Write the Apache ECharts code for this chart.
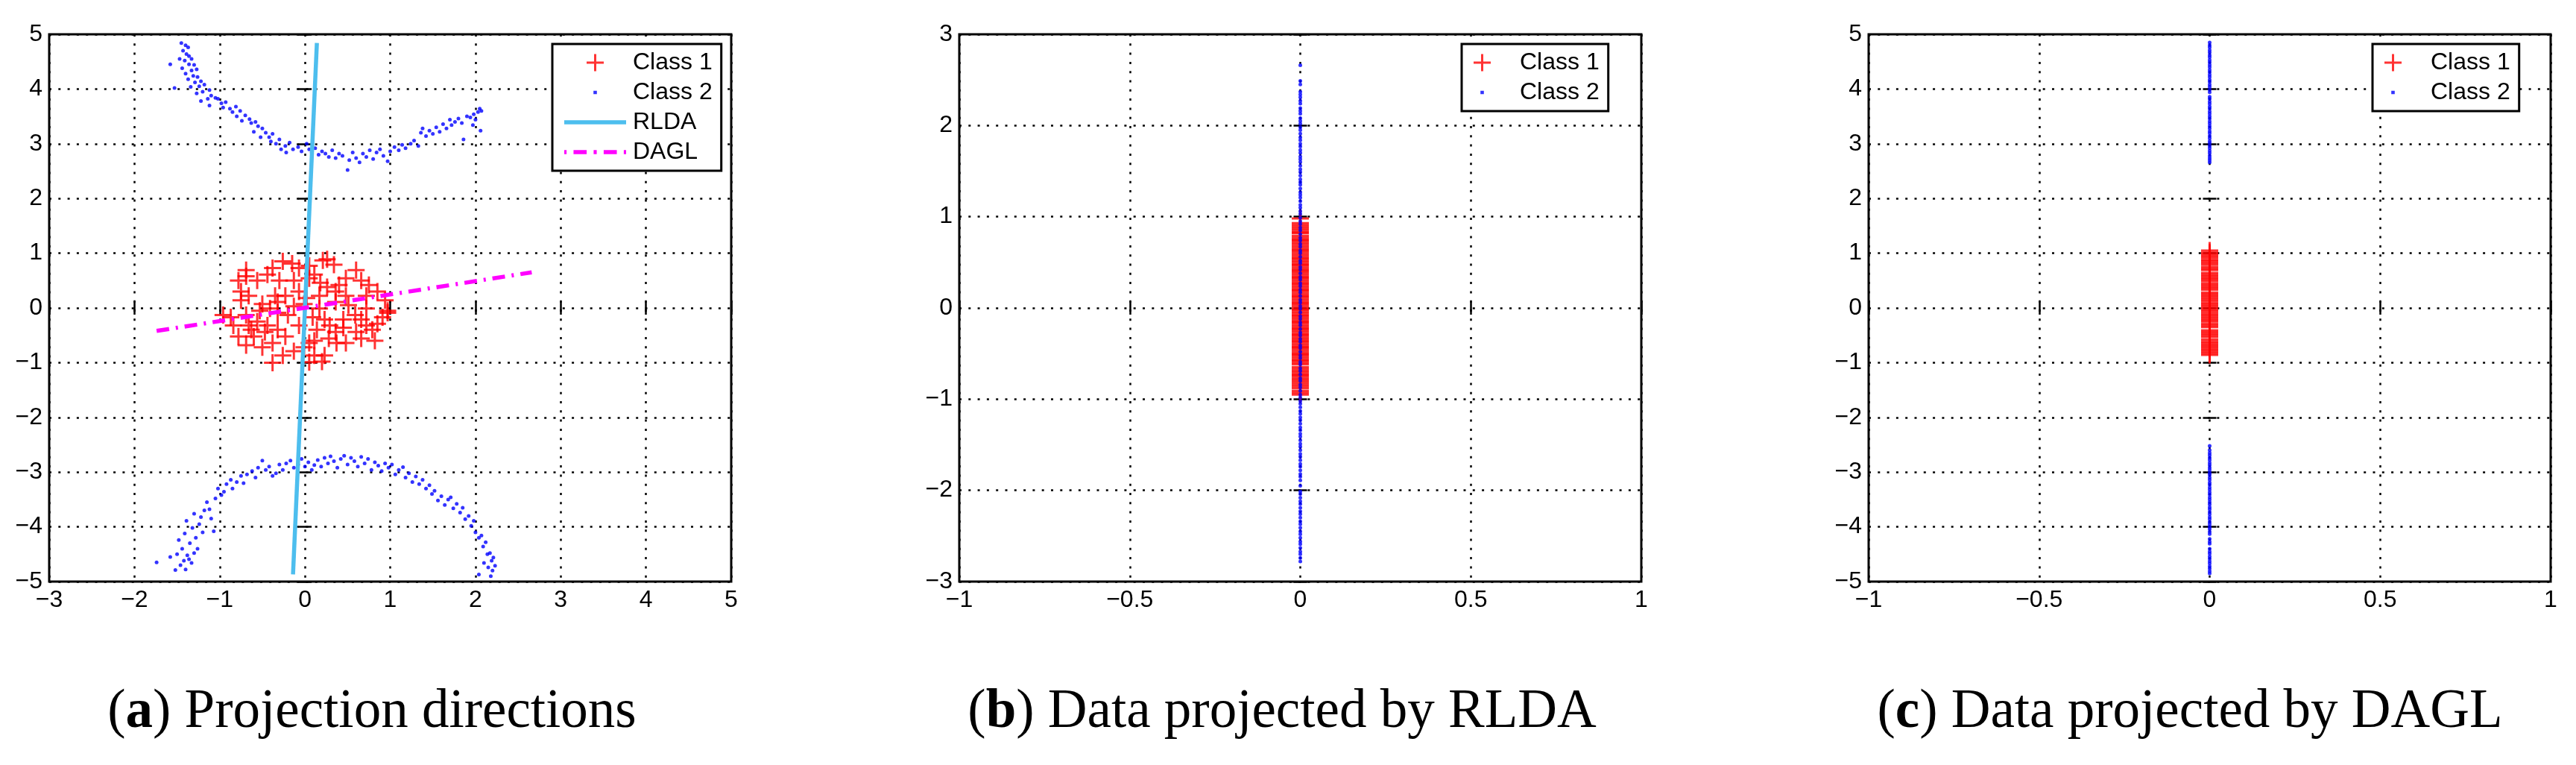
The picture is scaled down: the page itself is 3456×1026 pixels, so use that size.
<!DOCTYPE html>
<html>
<head>
<meta charset="utf-8">
<script src="https://cdn.jsdelivr.net/npm/echarts@6/dist/echarts.min.js"></script>
<style>
  html, body { margin: 0; padding: 0; background: #fff; }
  #main { width: 3456px; height: 1026px; }
</style>
</head>
<body>
<div id="main"></div>
<script>
// ---- data ----
// (a) original 2-D data
var class1A = [
  [-0.38,0.73],[-0.15,0.81],[-0.07,0.73],[0.21,0.87],[0.34,0.79],[0.60,0.69],[-0.69,0.58],[-0.56,0.50],
  [-0.75,0.30],[-0.44,0.61],[-0.30,0.50],[-0.23,0.22],[-0.07,0.30],[0.11,0.61],[0.18,0.46],[0.26,0.38],
  [0.40,0.42],[0.48,0.22],[0.66,0.50],[0.75,0.42],[0.85,0.30],[0.94,0.14],[0.97,-0.05],[0.91,-0.17],
  [0.72,-0.01],[0.59,-0.13],[0.51,0.05],[0.36,0.11],[0.17,-0.01],[0.09,-0.17],[0.23,-0.21],[0.14,-0.40],
  [0.05,-0.64],[0.11,-0.87],[0.20,-0.98],[0.37,-0.64],[0.45,-0.36],[0.60,-0.44],[0.72,-0.32],[0.82,-0.60],
  [0.66,-0.56],[0.28,-0.56],[-0.07,-0.32],[-0.23,-0.52],[-0.32,-0.40],[-0.44,-0.32],[-0.56,-0.25],[-0.69,-0.13],
  [-0.87,-0.17],[-0.96,-0.13],[-0.78,-0.52],[-0.69,-0.68],[-0.60,-0.52],[-0.50,-0.72],[-0.38,-0.64],[-0.26,-0.87],
  [-0.38,-1.00],[-0.13,-0.79],[-0.50,0.07],[-0.41,-0.01],[-0.32,-0.09],[-0.53,-0.05],[-0.75,0.14],[-0.66,0.22],
  [-0.20,-0.13],[-0.13,0.03],[-0.01,0.07],[0.02,0.18],[0.05,0.54],[-0.13,0.50],[0.36,0.30],[0.48,0.54],
  [0.72,0.22],[0.97,-0.09],[0.85,-0.29],[0.45,-0.21],[0.29,-0.32],[0.11,-0.60],[-0.01,-0.72],[0.23,-0.87],
  [0.05,-0.99],[-0.63,-0.40],[-0.84,-0.32],[-0.35,0.22],[-0.78,0.50],[-0.69,0.69],[-0.26,0.85],[0.05,0.77],
  [0.26,0.89],[-0.47,-0.44],[-0.66,-0.32],[0.48,-0.64],[0.36,-0.44],[0.79,-0.40],[0.66,-0.21],[0.17,0.22],
  [-0.32,0.11]
];
var class2UpperA = [
  [-1.45,4.84],[-1.40,4.80],[-1.37,4.76],[-1.43,4.70],[-1.39,4.64],[-1.36,4.60],[-1.47,4.55],[-1.41,4.52],
  [-1.33,4.55],[-1.58,4.45],[-1.36,4.45],[-1.30,4.44],[-1.44,4.38],[-1.33,4.34],[-1.27,4.36],[-1.40,4.28],
  [-1.31,4.24],[-1.26,4.22],[-1.53,4.02],[-1.37,4.18],[-1.29,4.12],[-1.22,4.14],[-1.34,4.04],[-1.24,4.05],
  [-1.18,4.08],[-1.12,3.98],[-1.27,3.92],[-1.20,3.95],[-1.10,3.88],[-1.05,3.84],[-1.22,3.78],[-1.14,3.82],
  [-1.02,3.82],[-1.12,3.70],[-0.98,3.74],[-0.93,3.76],[-0.96,3.66],[-0.88,3.64],[-0.81,3.68],[-0.85,3.58],
  [-0.76,3.60],[-0.80,3.50],[-0.70,3.52],[-0.65,3.45],[-0.74,3.42],[-0.63,3.38],[-0.58,3.40],[-0.55,3.32],
  [-0.60,3.22],[-0.50,3.28],[-0.46,3.20],[-0.52,3.12],[-0.42,3.12],[-0.38,3.18],[-0.40,3.04],[-0.34,3.00],
  [-0.30,3.08],[-0.23,2.96],[-0.28,2.90],[-0.18,3.02],[-0.14,2.90],[-0.22,2.84],[-0.08,2.94],[-0.04,2.86],
  [0.02,3.00],[0.05,2.90],[0.08,2.84],[0.12,2.92],[0.16,2.80],[0.20,2.86],[0.24,2.82],[0.28,2.76],
  [0.32,2.88],[0.36,2.74],[0.40,2.82],[0.44,2.78],[0.50,2.52],[0.52,2.70],[0.56,2.84],[0.60,2.74],
  [0.64,2.66],[0.68,2.82],[0.72,2.76],[0.76,2.88],[0.80,2.72],[0.84,2.84],[0.88,2.90],[0.92,2.78],
  [0.97,2.68],[1.00,2.86],[1.05,2.94],[1.10,2.88],[1.14,2.98],[1.18,2.92],[1.24,3.00],[1.28,3.06],
  [1.33,2.96],[1.36,3.20],[1.38,3.28],[1.42,3.14],[1.46,3.24],[1.50,3.18],[1.54,3.30],[1.58,3.22],
  [1.62,3.36],[1.66,3.28],[1.70,3.44],[1.72,3.34],[1.76,3.40],[1.80,3.46],[1.84,3.38],[1.86,3.08],
  [1.90,3.50],[1.94,3.48],[1.98,3.54],[2.00,3.44],[2.03,3.58],[2.05,3.64],[2.07,3.60],[2.06,3.24],
  [1.97,3.34]
];
var class2LowerA = [
  [-1.74,-4.65],[-1.58,-4.55],[-1.52,-4.79],[-1.50,-4.50],[-1.46,-4.70],[-1.44,-4.40],[-1.48,-4.24],[-1.42,-4.62],
  [-1.40,-4.78],[-1.38,-4.52],[-1.36,-4.59],[-1.41,-4.12],[-1.35,-4.30],[-1.33,-4.66],[-1.30,-4.48],[-1.39,-3.89],
  [-1.32,-4.02],[-1.28,-4.20],[-1.26,-4.40],[-1.24,-3.95],[-1.30,-3.76],[-1.22,-3.82],[-1.20,-4.10],[-1.18,-3.70],
  [-1.15,-3.55],[-1.12,-3.68],[-1.10,-3.85],[-1.07,-4.08],[-1.05,-3.48],[-1.02,-3.30],[-0.98,-3.42],[-0.95,-3.36],
  [-0.92,-3.22],[-0.87,-3.14],[-0.85,-3.30],[-0.80,-3.18],[-0.75,-3.07],[-0.72,-3.20],[-0.68,-3.04],[-0.62,-2.98],
  [-0.58,-3.10],[-0.55,-2.92],[-0.50,-2.79],[-0.46,-2.96],[-0.42,-2.90],[-0.38,-3.07],[-0.34,-3.02],[-0.30,-2.86],
  [-0.26,-2.96],[-0.22,-2.84],[-0.17,-2.79],[-0.13,-2.92],[-0.08,-2.86],[-0.04,-2.76],[0.00,-2.90],[0.04,-2.82],
  [0.08,-2.96],[0.11,-2.87],[0.15,-2.78],[0.19,-2.90],[0.23,-2.74],[0.27,-2.84],[0.30,-2.71],[0.34,-2.80],
  [0.38,-2.92],[0.42,-2.76],[0.46,-2.70],[0.50,-2.86],[0.54,-2.74],[0.58,-2.80],[0.62,-2.90],[0.66,-2.72],
  [0.70,-2.84],[0.74,-2.76],[0.78,-2.96],[0.82,-2.82],[0.86,-2.88],[0.90,-2.98],[0.94,-2.84],[0.98,-2.92],
  [1.02,-2.86],[1.06,-3.04],[1.10,-2.96],[1.15,-2.91],[1.18,-3.10],[1.22,-3.02],[1.26,-3.18],[1.30,-3.08],
  [1.34,-3.22],[1.38,-3.14],[1.42,-3.30],[1.46,-3.24],[1.49,-3.40],[1.52,-3.34],[1.56,-3.52],[1.60,-3.44],
  [1.64,-3.60],[1.68,-3.50],[1.71,-3.46],[1.74,-3.66],[1.78,-3.58],[1.82,-3.74],[1.85,-3.65],[1.88,-3.86],
  [1.92,-3.80],[1.95,-3.98],[1.98,-3.89],[2.00,-4.10],[2.04,-4.20],[2.07,-4.16],[2.09,-4.36],[2.12,-4.28],
  [2.14,-4.50],[2.17,-4.48],[2.19,-4.62],[2.21,-4.56],[2.23,-4.71],[2.20,-4.80],[2.15,-4.74],[2.04,-4.87],
  [2.10,-4.66],[2.18,-4.90]
];
var rldaLine = [[-0.14, -4.87], [0.14, 4.84]];
var daglLine = [[-1.74, -0.42], [2.66, 0.65]];

// (b) data projected by RLDA (all at x = 0)
var rldaClass1 = [
  0.98, 0.93, 0.91, 0.89, 0.87, 0.85, 0.83, 0.82, 0.79, 0.77, 0.75, 0.74, 0.72, 0.70, 0.68, 0.66,
  0.64, 0.63, 0.61, 0.59, 0.57, 0.55, 0.54, 0.52, 0.50, 0.48, 0.47, 0.45, 0.43, 0.41, 0.40, 0.38,
  0.36, 0.34, 0.33, 0.31, 0.29, 0.27, 0.26, 0.24, 0.22, 0.20, 0.19, 0.17, 0.15, 0.13, 0.12, 0.10,
  0.08, 0.06, 0.05, 0.03, 0.01, -0.01, -0.02, -0.04, -0.06, -0.08, -0.09, -0.11, -0.13, -0.15,
  -0.16, -0.18, -0.20, -0.22, -0.23, -0.25, -0.27, -0.29, -0.30, -0.32, -0.34, -0.36, -0.37, -0.39,
  -0.41, -0.43, -0.44, -0.46, -0.48, -0.50, -0.51, -0.53, -0.55, -0.57, -0.58, -0.60, -0.62, -0.65,
  -0.67, -0.69, -0.71, -0.73, -0.74, -0.76, -0.78, -0.80, -0.82, -0.84, -0.86, -0.88, -0.91, -0.93, -0.95
];
var rldaClass2 = [
  2.66, 2.49, 2.45, 2.37, 2.34, 2.31, 2.27, 2.24, 2.19, 2.16, 2.13, 2.08, 2.05, 2.02, 1.98, 1.95,
  1.91, 1.87, 1.84, 1.80, 1.77, 1.73, 1.70, 1.66, 1.63, 1.60, 1.56, 1.52, 1.49, 1.45, 1.41, 1.38,
  1.35, 1.31, 1.27, 1.24, 1.21, 1.17, 1.13, 1.10, 1.06, 1.03, 0.99, 0.95, 0.92, 0.88, 0.85, 0.81,
  0.77, 0.74, 0.70, 0.67, 0.63, 0.60, 0.56, 0.52, 0.49, 0.45, 0.42, 0.38, 0.34, 0.31, 0.27, 0.24,
  0.20, 0.17, 0.13, 0.09, 0.06, 0.02, -0.01, -0.05, -0.09, -0.12, -0.16, -0.19, -0.23, -0.27, -0.30,
  -0.34, -0.37, -0.41, -0.44, -0.48, -0.52, -0.55, -0.59, -0.62, -0.66, -0.69, -0.73, -0.77, -0.80,
  -0.84, -0.87, -0.91, -0.95, -0.98, -1.02, -1.05, -1.09, -1.13, -1.16, -1.20, -1.23, -1.27, -1.31,
  -1.34, -1.38, -1.41, -1.45, -1.49, -1.52, -1.56, -1.60, -1.63, -1.67, -1.71, -1.74, -1.78, -1.82,
  -1.85, -1.89, -1.95, -2.01, -2.04, -2.08, -2.12, -2.15, -2.19, -2.23, -2.26, -2.30, -2.34, -2.37,
  -2.41, -2.45, -2.48, -2.52, -2.56, -2.59, -2.63, -2.67, -2.70, -2.74, -2.78
];

// (c) data projected by DAGL (all at x = 0)
var daglClass1 = [
  1.05, 1.01, 0.98, 0.95, 0.92, 0.88, 0.85, 0.82, 0.79, 0.75, 0.72, 0.69, 0.64, 0.61, 0.58, 0.55,
  0.52, 0.49, 0.45, 0.42, 0.39, 0.36, 0.33, 0.28, 0.25, 0.22, 0.19, 0.16, 0.13, 0.09, 0.06, 0.03,
  0.00, -0.03, -0.06, -0.10, -0.13, -0.16, -0.19, -0.22, -0.25, -0.29, -0.32, -0.35, -0.41, -0.44,
  -0.47, -0.50, -0.53, -0.58, -0.62, -0.65, -0.68, -0.71, -0.74, -0.77, -0.80, -0.83, -0.86
];
var daglClass2 = [
  4.85, 4.80, 4.76, 4.71, 4.67, 4.62, 4.58, 4.53, 4.49, 4.44, 4.40, 4.35, 4.31, 4.26, 4.22, 4.17,
  4.13, 4.08, 4.04, 3.99, 3.94, 3.86, 3.82, 3.77, 3.73, 3.68, 3.64, 3.59, 3.55, 3.50, 3.46, 3.41,
  3.37, 3.32, 3.28, 3.23, 3.19, 3.14, 3.10, 3.05, 3.01, 2.96, 2.92, 2.87, 2.83, 2.78, 2.74, 2.70, 2.66,
  -2.52, -2.60, -2.65, -2.69, -2.74, -2.78, -2.83, -2.87, -2.92, -2.96, -3.01, -3.05, -3.10, -3.14,
  -3.19, -3.23, -3.28, -3.32, -3.37, -3.41, -3.46, -3.50, -3.55, -3.59, -3.64, -3.68, -3.73, -3.77,
  -3.82, -3.86, -3.91, -3.95, -4.00, -4.04, -4.09, -4.13, -4.22, -4.27, -4.31, -4.40, -4.45, -4.49,
  -4.54, -4.58, -4.63, -4.67, -4.72, -4.76, -4.81, -4.85
];

// axis ranges [min, max, interval]
var xRangeA = [-3, 5, 1], yRangeA = [-5, 5, 1];
var xRangeB = [-1, 1, 0.5], yRangeB = [-3, 3, 1];
var xRangeC = [-1, 1, 0.5], yRangeC = [-5, 5, 1];

var captions = [
  { tag: 'a', text: 'Projection directions' },
  { tag: 'b', text: 'Data projected by RLDA' },
  { tag: 'c', text: 'Data projected by DAGL' }
];

// ---- chart ----
var chart = echarts.init(document.getElementById('main'));

var SANS = 'Liberation Sans';
var SERIF = 'Liberation Serif';
var plusPath = 'path://M87,0H113V87H200V113H113V200H87V113H0V87H87Z';
var dotIcon = 'path://M0,0L0.01,0L0,0.01Z M100,100L99.99,100L100,99.99Z M40,40H60V60H40Z';
var rldaIcon = 'path://M0,0H83V5.5H0Z';
var daglIcon = 'path://M0,0H3V5.5H0Z M12,0H29V5.5H12Z M38,0H42V5.5H38Z M51,0H68V5.5H51Z M77,0H80V5.5H77Z';

var gridPos = [66, 1287, 2507];
var captionX = [499, 1720, 2938];

function fmt(v) {
  return String(v).replace('-', '\u2212');
}

function makeAxes(dim, gi, r) {
  var pos = dim === 'x' ? ['bottom', 'top'] : ['left', 'right'];
  return pos.map(function (p, k) {
    return {
      type: 'value',
      gridIndex: gi,
      position: p,
      min: r[0], max: r[1], interval: r[2],
      axisLine: { show: false },
      axisTick: { show: true, inside: true, length: 9, lineStyle: { color: '#000', width: 2.5 } },
      axisLabel: {
        show: k === 0, fontSize: 32, fontFamily: SANS, color: '#000',
        margin: 9, showMinLabel: true, showMaxLabel: true, formatter: fmt
      },
      splitLine: { show: k === 0, lineStyle: { color: '#000', width: 2.5, type: [3, 9.3] } }
    };
  });
}

function toPoints(ys) {
  return ys.map(function (y) { return [0, y]; });
}

var legendCommon = {
  orient: 'vertical',
  top: 59,
  itemWidth: 83,
  itemHeight: 23,
  itemGap: 0,
  padding: [5, 12, 5, 16],
  borderColor: '#000',
  borderWidth: 3,
  borderRadius: 0,
  backgroundColor: '#fff',
  selectedMode: false,
  symbolKeepAspect: true,
  textStyle: { fontSize: 32, fontFamily: SANS, color: '#000', lineHeight: 40, padding: [0, 0, 0, 4] }
};

function legendAt(left, items) {
  return Object.assign({}, legendCommon, { left: left, data: items });
}

var option = {
  animation: false,
  backgroundColor: '#fff',
  grid: gridPos.map(function (l) {
    return { left: l, top: 46, width: 915, height: 734, show: true, borderColor: '#000', borderWidth: 3 };
  }),
  xAxis: [].concat(makeAxes('x', 0, xRangeA), makeAxes('x', 1, xRangeB), makeAxes('x', 2, xRangeC)),
  yAxis: [].concat(makeAxes('y', 0, yRangeA), makeAxes('y', 1, yRangeB), makeAxes('y', 2, yRangeC)),
  legend: [
    legendAt(741, [
      { name: 'Class 1' },
      { name: 'Class 2', icon: dotIcon },
      { name: 'RLDA', icon: rldaIcon, itemStyle: { color: '#4DBEEE', borderWidth: 0 } },
      { name: 'DAGL', icon: daglIcon, itemStyle: { color: '#FF00FF', borderWidth: 0 } }
    ]),
    legendAt(1961, [{ name: 'Class 1' }, { name: 'Class 2', icon: dotIcon }]),
    legendAt(3183, [{ name: 'Class 1' }, { name: 'Class 2', icon: dotIcon }])
  ],
  series: [
    // (a)
    { type: 'scatter', name: 'Class 1', xAxisIndex: 0, yAxisIndex: 0, data: class1A,
      symbol: plusPath, symbolSize: 23, itemStyle: { color: '#FF0000' } },
    { type: 'scatter', name: 'Class 2', xAxisIndex: 0, yAxisIndex: 0, data: class2UpperA.concat(class2LowerA),
      symbol: 'circle', symbolSize: 5, itemStyle: { color: '#0000FF' } },
    { type: 'line', name: 'RLDA', xAxisIndex: 0, yAxisIndex: 0, data: rldaLine, symbol: 'none',
      color: '#4DBEEE', lineStyle: { color: '#4DBEEE', width: 5.5 } },
    { type: 'line', name: 'DAGL', xAxisIndex: 0, yAxisIndex: 0, data: daglLine, symbol: 'none',
      color: '#FF00FF', lineStyle: { color: '#FF00FF', width: 5.5, type: [17, 9, 3, 9] } },
    // (b)
    { type: 'scatter', name: 'Class 1', xAxisIndex: 2, yAxisIndex: 2, data: toPoints(rldaClass1),
      symbol: plusPath, symbolSize: 23, itemStyle: { color: '#FF0000' } },
    { type: 'scatter', name: 'Class 2', xAxisIndex: 2, yAxisIndex: 2, data: toPoints(rldaClass2),
      symbol: 'circle', symbolSize: 5, itemStyle: { color: '#0000FF' } },
    // (c)
    { type: 'scatter', name: 'Class 1', xAxisIndex: 4, yAxisIndex: 4, data: toPoints(daglClass1),
      symbol: plusPath, symbolSize: 23, itemStyle: { color: '#FF0000' } },
    { type: 'scatter', name: 'Class 2', xAxisIndex: 4, yAxisIndex: 4, data: toPoints(daglClass2),
      symbol: 'circle', symbolSize: 5, itemStyle: { color: '#0000FF' } }
  ],
  graphic: captions.map(function (c, i) {
    return {
      type: 'text',
      x: captionX[i],
      y: 956,
      style: {
        text: '({b|' + c.tag + '}) ' + c.text,
        fontSize: 73,
        fontFamily: SERIF,
        fill: '#000',
        align: 'center',
        verticalAlign: 'middle',
        rich: { b: { fontSize: 73, fontFamily: SERIF, fontWeight: 'bold', fill: '#000' } }
      }
    };
  })
};

chart.setOption(option);
window.addEventListener('resize', function () {
  chart.resize();
});
</script>
</body>
</html>
